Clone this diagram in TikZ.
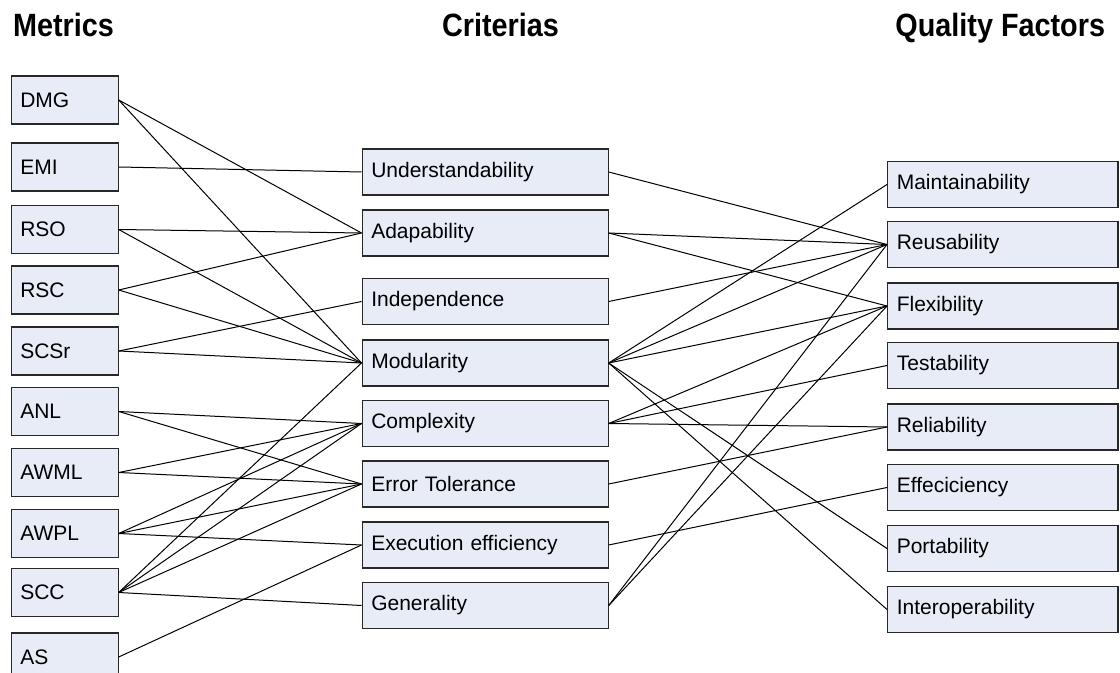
\documentclass[tikz,border=0pt]{standalone}
\usepackage{fontspec}
\usepackage{graphicx}
\setmainfont{Liberation Sans}

\begin{document}
\begin{tikzpicture}[x=0.5pt, y=-0.5pt,
        box/.style={draw={rgb,255:red,40;green,40;blue,40}, line width=0.6pt,
            fill={rgb,255:red,231;green,236;blue,247}, anchor=west,
            inner xsep=4.6pt, inner ysep=0pt, align=left,
            font=\fontsize{10.5}{12}\selectfont},
        metric/.style={box, minimum height=24pt, text width=44.3pt},
        crit/.style={box, minimum height=23pt, text width=113.8pt},
        factor/.style={box, minimum height=23pt, text width=106pt},
        heading/.style={anchor=base west, inner sep=0pt,
            font=\bfseries\fontsize{14.4}{16}\selectfont},
        link/.style={line width=0.5pt}]
        \clip (0, 0) rectangle (1120, 673);

        % titles
        \node[heading] (tmetric) at (12.7, 36.7) {\scalebox{1}[1.12]{Metrics}};
        \node[heading] (tcrit) at (441.7, 36.7) {\scalebox{1}[1.12]{Criterias}};
        \node[heading] (tfactor) at (895, 36.7) {\scalebox{1}[1.12]{Quality Factors}};

        % metrics
        \node[metric] (dmg) at (10.5, 100) {DMG};
        \node[metric] (emi) at (10.5, 167) {EMI};
        \node[metric] (rso) at (10.5, 229.5) {RSO};
        \node[metric] (rsc) at (10.5, 290) {RSC};
        \node[metric] (scsr) at (10.5, 351) {SCSr};
        \node[metric] (anl) at (10.5, 411.5) {ANL};
        \node[metric] (awml) at (10.5, 472.5) {AWML};
        \node[metric] (awpl) at (10.5, 533.5) {AWPL};
        \node[metric] (scc) at (10.5, 592.5) {SCC};
        \node[metric] (as) at (10.5, 657) {AS};

        % criterias
        \node[crit] (under) at (361.5, 172) {Understandability};
        \node[crit] (adap) at (361.5, 233) {Adapability};
        \node[crit] (indep) at (361.5, 301.5) {Independence};
        \node[crit] (modul) at (361.5, 363) {Modularity};
        \node[crit] (compl) at (361.5, 423.5) {Complexity};
        \node[crit] (errtol) at (361.5, 484) {Error Tolerance};
        \node[crit] (exec) at (361.5, 545) {Execution efficiency};
        \node[crit] (gen) at (361.5, 605.5) {Generality};

        % quality factors
        \node[factor] (maint) at (887, 184.5) {Maintainability};
        \node[factor] (reuse) at (887, 244.5) {Reusability};
        \node[factor] (flex) at (887, 306) {Flexibility};
        \node[factor] (test) at (887, 365.5) {Testability};
        \node[factor] (reli) at (887, 427) {Reliability};
        \node[factor] (effic) at (887, 487.5) {Effeciciency};
        \node[factor] (port) at (887, 548.5) {Portability};
        \node[factor] (inter) at (887, 609.5) {Interoperability};

        % metrics to criterias
        \draw[link] (dmg.east) -- (adap.west);
        \draw[link] (dmg.east) -- (modul.west);
        \draw[link] (emi.east) -- (under.west);
        \draw[link] (rso.east) -- (adap.west);
        \draw[link] (rso.east) -- (modul.west);
        \draw[link] (rsc.east) -- (adap.west);
        \draw[link] (rsc.east) -- (modul.west);
        \draw[link] (scsr.east) -- (indep.west);
        \draw[link] (scsr.east) -- (modul.west);
        \draw[link] (anl.east) -- (compl.west);
        \draw[link] (anl.east) -- (errtol.west);
        \draw[link] (awml.east) -- (compl.west);
        \draw[link] (awml.east) -- (errtol.west);
        \draw[link] (awpl.east) -- (compl.west);
        \draw[link] (awpl.east) -- (errtol.west);
        \draw[link] (awpl.east) -- (exec.west);
        \draw[link] (scc.east) -- (modul.west);
        \draw[link] (scc.east) -- (compl.west);
        \draw[link] (scc.east) -- (errtol.west);
        \draw[link] (scc.east) -- (gen.west);
        \draw[link] (as.east) -- (exec.west);

        % criterias to quality factors
        \draw[link] (under.east) -- (reuse.west);
        \draw[link] (adap.east) -- (reuse.west);
        \draw[link] (adap.east) -- (flex.west);
        \draw[link] (indep.east) -- (reuse.west);
        \draw[link] (modul.east) -- (maint.west);
        \draw[link] (modul.east) -- (reuse.west);
        \draw[link] (modul.east) -- (flex.west);
        \draw[link] (modul.east) -- (port.west);
        \draw[link] (modul.east) -- (inter.west);
        \draw[link] (compl.east) -- (flex.west);
        \draw[link] (compl.east) -- (test.west);
        \draw[link] (compl.east) -- (reli.west);
        \draw[link] (errtol.east) -- (reli.west);
        \draw[link] (exec.east) -- (effic.west);
        \draw[link] (gen.east) -- (reuse.west);
        \draw[link] (gen.east) -- (flex.west);
\end{tikzpicture}
\end{document}
